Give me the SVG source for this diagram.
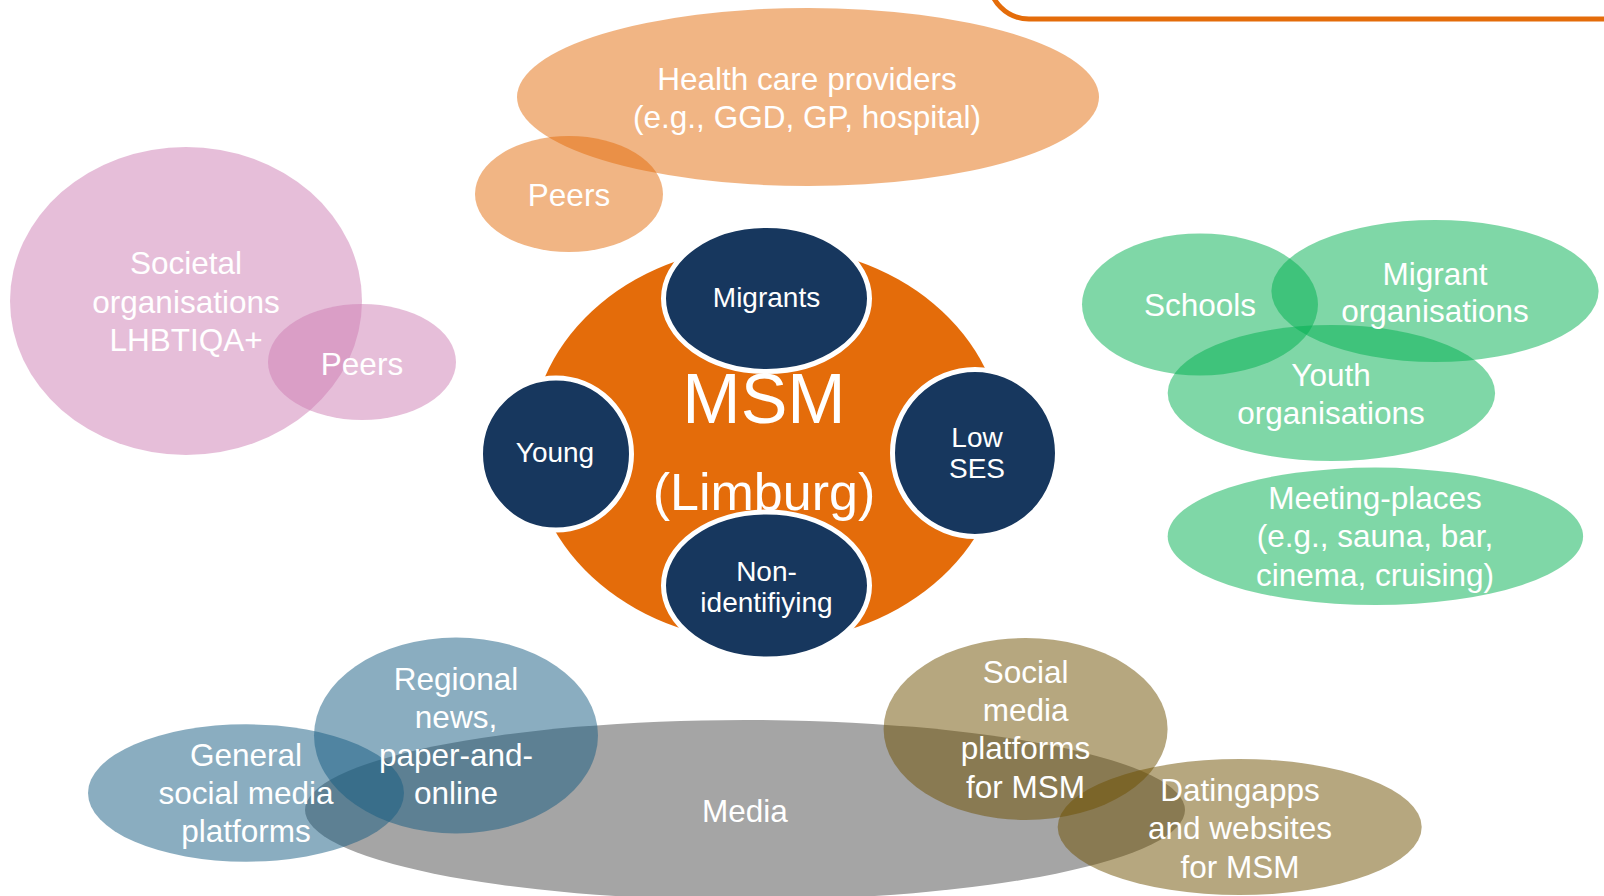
<svg xmlns="http://www.w3.org/2000/svg" width="1604" height="896" viewBox="0 0 1604 896">
<style>
  text { font-family: "Liberation Sans", Arial, sans-serif; fill: #FFFFFF; text-anchor: middle; }
  .lbl { font-size: 31.5px; }
  .nav { font-size: 28px; }
  .orange { fill: #E46C0A; fill-opacity: 0.5; }
  .pink { fill: #CD7DB3; fill-opacity: 0.5; }
  .green { fill: #00B050; fill-opacity: 0.5; }
  .blue { fill: #155B81; fill-opacity: 0.5; }
  .khaki { fill: #6D4F00; fill-opacity: 0.5; }
  .gray { fill: #A5A5A5; }
  .navy { fill: #17375E; stroke: #FFFFFF; stroke-width: 5; }
</style>
<rect x="0" y="0" width="1604" height="896" fill="#FFFFFF"/>
<g id="frame">
  <path d="M 989 -30 L 989 -21 A 40 40 0 0 0 1029 19 L 1610 19" fill="none" stroke="#E46C0A" stroke-width="5"/>
</g>
<g id="connectors"></g>

<g id="node-health"><ellipse class="orange" cx="808" cy="97" rx="291" ry="89"/></g>
<g id="node-peers-health"><ellipse class="orange" cx="569" cy="194" rx="94" ry="58"/></g>

<g id="node-societal"><ellipse class="pink" cx="186" cy="301" rx="176" ry="154"/></g>
<g id="node-peers-societal"><ellipse class="pink" cx="362" cy="362" rx="94" ry="58"/></g>

<g id="node-schools"><ellipse class="green" cx="1200" cy="304.5" rx="118" ry="71"/></g>
<g id="node-migrant-org"><ellipse class="green" cx="1435" cy="291" rx="163.6" ry="71"/></g>
<g id="node-youth"><ellipse class="green" cx="1331.4" cy="393" rx="163.7" ry="68"/></g>
<g id="node-meeting"><ellipse class="green" cx="1375.4" cy="536.3" rx="207.7" ry="68.7"/></g>

<g id="node-media"><ellipse class="gray" cx="745" cy="810" rx="440" ry="90"/></g>
<g id="node-general"><ellipse class="blue" cx="246" cy="793" rx="158" ry="68.7"/></g>
<g id="node-regional"><ellipse class="blue" cx="456" cy="735.5" rx="142" ry="98"/></g>
<g id="node-dating"><ellipse class="khaki" cx="1239.7" cy="827" rx="182" ry="68"/></g>
<g id="node-social-msm"><ellipse class="khaki" cx="1025.6" cy="729" rx="142" ry="91"/></g>

<g id="node-msm"><ellipse fill="#E46C0A" cx="767" cy="444" rx="236" ry="198"/></g>
<g id="node-migrants"><ellipse class="navy" cx="766.5" cy="298.5" rx="103" ry="73"/></g>
<g id="node-young"><ellipse class="navy" cx="556" cy="454" rx="75.5" ry="76"/></g>
<g id="node-lowses"><ellipse class="navy" cx="975" cy="453" rx="82.5" ry="83.5"/></g>
<g id="node-nonidentifying"><ellipse class="navy" cx="766.5" cy="585.5" rx="103" ry="73.5"/></g>

<g id="labels">
  <text id="label-health" class="lbl"><tspan x="807" y="90">Health care providers</tspan><tspan x="807" y="127.7">(e.g., GGD, GP, hospital)</tspan></text>
  <text id="label-peers-health" class="lbl" x="569" y="205.7">Peers</text>
  <text id="label-societal" class="lbl"><tspan x="186" y="274">Societal</tspan><tspan x="186" y="312.7">organisations</tspan><tspan x="186" y="351">LHBTIQA+</tspan></text>
  <text id="label-peers-societal" class="lbl" x="362" y="375">Peers</text>
  <text id="label-schools" class="lbl" x="1200" y="315.5">Schools</text>
  <text id="label-migrant-org" class="lbl"><tspan x="1435" y="284.5">Migrant</tspan><tspan x="1435" y="322">organisations</tspan></text>
  <text id="label-youth" class="lbl"><tspan x="1331" y="386">Youth</tspan><tspan x="1331" y="423.5">organisations</tspan></text>
  <text id="label-meeting" class="lbl"><tspan x="1375" y="508.5">Meeting-places</tspan><tspan x="1375" y="547">(e.g., sauna, bar,</tspan><tspan x="1375" y="585.5">cinema, cruising)</tspan></text>
  <text id="label-media" class="lbl" x="745" y="822">Media</text>
  <text id="label-general" class="lbl"><tspan x="246" y="766">General</tspan><tspan x="246" y="804.3">social media</tspan><tspan x="246" y="842">platforms</tspan></text>
  <text id="label-regional" class="lbl"><tspan x="456" y="689.5">Regional</tspan><tspan x="456" y="727.8">news,</tspan><tspan x="456" y="766">paper-and-</tspan><tspan x="456" y="804.3">online</tspan></text>
  <text id="label-social-msm" class="lbl"><tspan x="1025.6" y="682.5">Social</tspan><tspan x="1025.6" y="720.8">media</tspan><tspan x="1025.6" y="759">platforms</tspan><tspan x="1025.6" y="797.5">for MSM</tspan></text>
  <text id="label-dating" class="lbl"><tspan x="1240" y="801">Datingapps</tspan><tspan x="1240" y="839.3">and websites</tspan><tspan x="1240" y="877.7">for MSM</tspan></text>
  <text id="label-migrants" class="nav" x="766.5" y="306.7">Migrants</text>
  <text id="label-young" class="nav" x="555" y="461.7">Young</text>
  <text id="label-lowses" class="nav"><tspan x="977" y="447">Low</tspan><tspan x="977" y="477.7">SES</tspan></text>
  <text id="label-nonidentifying" class="nav"><tspan x="766.5" y="580.7">Non-</tspan><tspan x="766.5" y="611.7">identifiying</tspan></text>
  <text id="label-msm" x="764" y="423" font-size="70">MSM</text>
  <text id="label-limburg" x="764" y="510" font-size="52">(Limburg)</text>
</g>
</svg>
